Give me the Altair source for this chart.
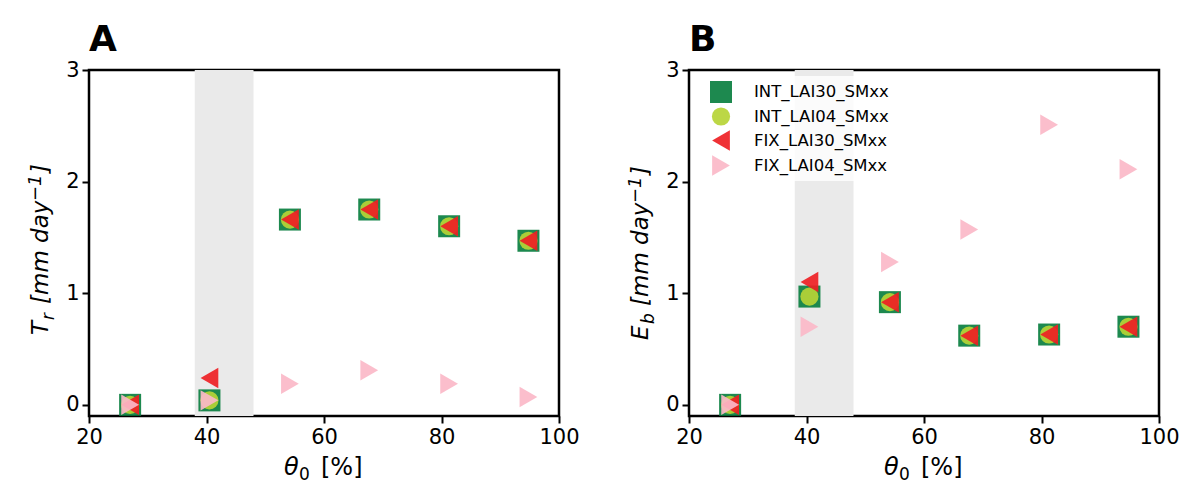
import altair as alt
import pandas as pd

# soil moisture levels (x) shared by both panels
theta = [27.0, 40.5, 54.2, 67.7, 81.3, 94.8]

series = ["INT_LAI30_SMxx", "INT_LAI04_SMxx", "FIX_LAI30_SMxx", "FIX_LAI04_SMxx"]
colors = ["#0a7f40", "#b6d436", "#ee1f24", "#fbb8c8"]
shapes = ["square", "circle", "triangle-left", "triangle-right"]
sizes = [484, 330, 420, 420]

# panel A: transpiration Tr
tr_int30 = [0.0, 0.04, 1.66, 1.75, 1.60, 1.47]
tr_int04 = [0.0, 0.04, 1.66, 1.75, 1.60, 1.47]
tr_fix30 = [0.0, 0.24, 1.66, 1.75, 1.60, 1.47]
tr_fix04 = [0.0, 0.04, 0.19, 0.31, 0.19, 0.07]

# panel B: soil evaporation Eb
eb_int30 = [0.0, 0.97, 0.92, 0.62, 0.63, 0.70]
eb_int04 = [0.0, 0.97, 0.92, 0.62, 0.63, 0.70]
eb_fix30 = [0.0, 1.10, 0.92, 0.62, 0.63, 0.70]
eb_fix04 = [0.0, 0.70, 1.28, 1.57, 2.51, 2.11]

# grey band (dry-ish soil moisture range)
band_lo = [38]
band_hi = [48]

FONT = "DejaVu Sans"


def long_df(cols):
    rows = []
    for name, vals in zip(series, cols):
        for t, v in zip(theta, vals):
            rows.append({"theta": t, "value": v, "series": name})
    return pd.DataFrame(rows)


def piece(txt, x, y, size, angle=0, italic=True):
    # one bit of a math-style axis title
    return alt.Chart(pd.DataFrame({"t": [txt]})).mark_text(
        align="left", baseline="alphabetic", fontSize=size, font=FONT,
        fontStyle="italic" if italic else "normal", angle=angle, color="black"
    ).encode(x=alt.value(x), y=alt.value(y), text="t:N")


def x_title():
    return [
        piece("θ", 195, 405, 24),
        piece("0", 210, 410, 17, italic=False),
        piece("[%]", 232, 405, 24, italic=False),
    ]


def panel(df, letter, ytitle, show_legend):
    xs = alt.Scale(domain=[20, 100], nice=False, zero=False)
    ys = alt.Scale(domain=[-0.1, 3], nice=False, zero=False)

    band = alt.Chart(pd.DataFrame({"lo": band_lo, "hi": band_hi})).mark_rect(
        color="#eaeaea"
    ).encode(x=alt.X("lo:Q", scale=xs), x2="hi:Q")

    if show_legend:
        leg = alt.Legend(
            title=None, orient="none", legendX=16, legendY=6,
            fillColor="rgba(255,255,255,0.8)", padding=5, rowPadding=4,
            labelFontSize=16.5, labelFont=FONT, labelColor="black",
            labelOffset=22, symbolStrokeWidth=0,
        )
    else:
        leg = None

    if leg is None:
        col = alt.Color("series:N", scale=alt.Scale(domain=series, range=colors), legend=None)
        shp = alt.Shape("series:N", scale=alt.Scale(domain=series, range=shapes), legend=None)
        siz = alt.Size("series:N", scale=alt.Scale(type="ordinal", domain=series, range=sizes), legend=None)
    else:
        col = alt.Color("series:N", scale=alt.Scale(domain=series, range=colors), legend=leg)
        shp = alt.Shape("series:N", scale=alt.Scale(domain=series, range=shapes), legend=leg)
        siz = alt.Size("series:N", scale=alt.Scale(type="ordinal", domain=series, range=sizes), legend=leg)

    pts = alt.Chart(df).mark_point(filled=True, opacity=0.92, strokeWidth=0).encode(
        x=alt.X("theta:Q", scale=xs,
                axis=alt.Axis(values=[20, 40, 60, 80, 100], title=None, grid=False)),
        y=alt.Y("value:Q", scale=ys,
                axis=alt.Axis(values=[0, 1, 2, 3], title=None, grid=False)),
        color=col, shape=shp, size=siz,
    )

    return alt.layer(band, pts, *ytitle, *x_title()).properties(
        width=470, height=346,
        title=alt.TitleParams(letter, anchor="start", frame="group", fontSize=36,
                              fontWeight="bold", font=FONT, color="black", offset=0),
    )


ytitle_a = [
    piece("T", -41, 265, 23, angle=270),
    piece("r", -35, 250, 17, angle=270),
    piece("[mm day", -41, 234, 23, angle=270),
    piece("−1", -48, 131, 18, angle=270),
    piece("]", -41, 103, 23, angle=270),
]
ytitle_b = [
    piece("E", -41, 270, 23, angle=270),
    piece("b", -35, 254, 17, angle=270),
    piece("[mm day", -41, 236, 23, angle=270),
    piece("−1", -48, 133, 18, angle=270),
    piece("]", -41, 105, 23, angle=270),
]

chart_a = panel(long_df([tr_int30, tr_int04, tr_fix30, tr_fix04]), "A", ytitle_a, False)
chart_b = panel(long_df([eb_int30, eb_int04, eb_fix30, eb_fix04]), "B", ytitle_b, True)

chart = alt.hconcat(chart_a, chart_b, spacing=44).resolve_scale(
    color="independent", shape="independent", size="independent"
).resolve_legend(
    color="independent", shape="independent", size="independent"
).properties(
    padding={"left": 17, "top": 12, "right": 5, "bottom": 5}
).configure_view(
    stroke="black", strokeWidth=2.5
).configure_axis(
    domain=False, tickColor="black", tickWidth=2, tickSize=7,
    labelFontSize=21, labelFont=FONT, labelColor="black", labelPadding=3,
    labelFlush=False,
)

chart.save("out.html", embed_options={"renderer": "svg", "actions": False})
